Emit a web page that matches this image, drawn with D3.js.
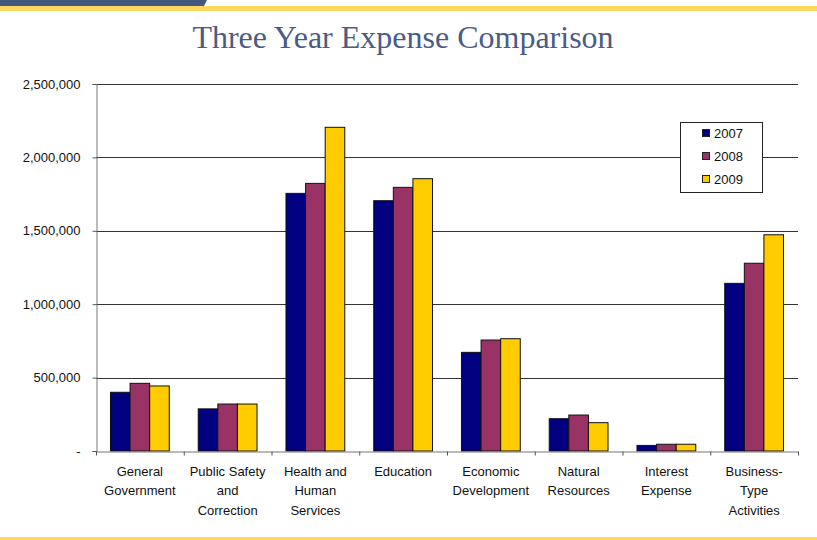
<!DOCTYPE html>
<html>
<head>
<meta charset="utf-8">
<script src="https://cdn.jsdelivr.net/npm/d3@7"></script>
<style>
    body { margin: 0; background: #fff; }
    svg { display: block; }
</style>
</head>
<body>
<div id="chart"></div>
<script>
// data
let categories = ["General Government", "Public Safety and Correction", "Health and Human Services",
    "Education", "Economic Development", "Natural Resources", "Interest Expense", "Business-Type Activities"];
let catLines = [["General", "Government"], ["Public Safety", "and", "Correction"], ["Health and", "Human", "Services"],
    ["Education"], ["Economic", "Development"], ["Natural", "Resources"], ["Interest", "Expense"], ["Business-", "Type", "Activities"]];
let years = ["2007", "2008", "2009"];
let values2007 = [400000, 287000, 1755000, 1705000, 672000, 220000, 38000, 1142000];
let values2008 = [461000, 320000, 1823000, 1796000, 756000, 245000, 46000, 1279000];
let values2009 = [443000, 320000, 2205000, 1855000, 765000, 193000, 46000, 1473000];
let yTicks = [0, 500000, 1000000, 1500000, 2000000, 2500000];

let series = [values2007, values2008, values2009];
let colors = ["#000080", "#993366", "#ffcc00"];

let width = 817, height = 540;
let plotLeft = 96, plotRight = 798, plotTop = 84, plotBottom = 451;

let svg = d3.select("#chart").append("svg")
    .attr("width", width)
    .attr("height", height);

// slide decoration
svg.append("rect").attr("x", 0).attr("y", 6).attr("width", width).attr("height", 5).attr("fill", "#fcd95c");
svg.append("path").attr("d", "M0,0 L207,0 L204,6 L0,6 Z").attr("fill", "#44577f");
svg.append("rect").attr("x", 0).attr("y", 537).attr("width", width).attr("height", 3).attr("fill", "#fcd95c");

svg.append("text")
    .attr("x", 403)
    .attr("y", 48)
    .attr("text-anchor", "middle")
    .style("font-family", "'Liberation Serif', 'Times New Roman', serif")
    .style("font-size", "32px")
    .style("fill", "#4b5b84")
    .text("Three Year Expense Comparison");

let y = d3.scaleLinear().domain([0, 2500000]).range([plotBottom, plotTop]);

let x = d3.scaleBand()
    .domain(categories)
    .range([plotLeft, plotRight])
    .paddingInner(0.33)
    .paddingOuter(0.165);

let xSub = d3.scaleBand()
    .domain(years)
    .range([0, x.bandwidth()]);

// gridlines
svg.append("g")
    .selectAll("line")
    .data(yTicks.filter(d => d > 0))
    .join("line")
    .attr("x1", plotLeft)
    .attr("x2", plotRight)
    .attr("y1", d => Math.round(y(d)) + 0.5)
    .attr("y2", d => Math.round(y(d)) + 0.5)
    .attr("stroke", "#333")
    .attr("stroke-width", 1);

// bars
series.forEach((vals, i) => {
    svg.append("g")
        .selectAll("rect")
        .data(vals)
        .join("rect")
        .attr("x", (d, j) => x(categories[j]) + xSub(years[i]))
        .attr("y", d => y(d))
        .attr("width", xSub.bandwidth())
        .attr("height", d => plotBottom - y(d))
        .attr("fill", colors[i])
        .attr("stroke", "#111")
        .attr("stroke-width", 1);
});

// y axis
let yAxis = d3.axisLeft(y)
    .tickValues(yTicks)
    .tickSize(4)
    .tickPadding(12)
    .tickFormat(d => d === 0 ? "-" : d3.format(",")(d));

let gy = svg.append("g")
    .attr("transform", "translate(" + (plotLeft + 0.5) + ",0)")
    .call(yAxis);
gy.select(".domain").attr("stroke", "#777");
gy.selectAll(".tick line").attr("stroke", "#555");
gy.selectAll("text")
    .style("font-family", "'Liberation Sans', Arial, sans-serif")
    .style("font-size", "13px")
    .style("fill", "#111");

// x axis: ticks between categories
let xIdx = d3.scaleLinear().domain([0, categories.length]).range([plotLeft, plotRight]);
let gx = svg.append("g")
    .attr("transform", "translate(0," + (plotBottom + 0.5) + ")")
    .call(d3.axisBottom(xIdx).ticks(categories.length).tickSize(4).tickSizeOuter(0).tickFormat(""));
gx.select(".domain").attr("stroke", "#777");
gx.selectAll(".tick line").attr("stroke", "#555");

// category labels
let labels = svg.append("g")
    .selectAll("text")
    .data(categories)
    .join("text")
    .attr("x", d => x(d) + x.bandwidth() / 2)
    .attr("y", 476)
    .attr("text-anchor", "middle")
    .style("font-family", "'Liberation Sans', Arial, sans-serif")
    .style("font-size", "13px")
    .style("fill", "#111");

labels.each(function (d, i) {
    let t = d3.select(this);
    catLines[i].forEach((line, k) => {
        t.append("tspan")
            .attr("x", x(d) + x.bandwidth() / 2)
            .attr("dy", k === 0 ? 0 : 19.3)
            .text(line);
    });
});

// legend
let legend = svg.append("g").attr("transform", "translate(680,122)");
legend.append("rect")
    .attr("x", 0.5).attr("y", 0.5)
    .attr("width", 82).attr("height", 70)
    .attr("fill", "#fff")
    .attr("stroke", "#222");

years.forEach((yr, i) => {
    let cy = 11 + i * 23;
    legend.append("rect")
        .attr("x", 22.5).attr("y", cy - 3.5)
        .attr("width", 7).attr("height", 7)
        .attr("fill", colors[i])
        .attr("stroke", "#222");
    legend.append("text")
        .attr("x", 34)
        .attr("y", cy + 5)
        .style("font-family", "'Liberation Sans', Arial, sans-serif")
        .style("font-size", "13px")
        .style("fill", "#111")
        .text(yr);
});
</script>
</body>
</html>
